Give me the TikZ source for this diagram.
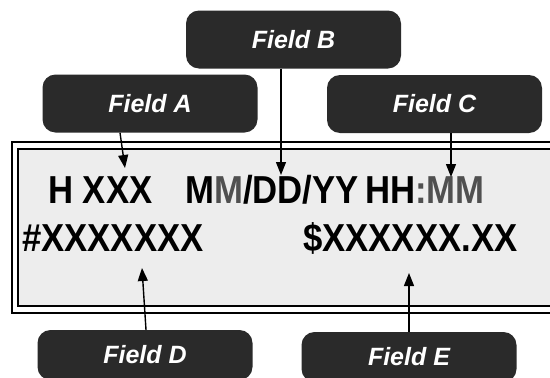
\documentclass[tikz,border=0pt]{standalone}
\usepackage{fontspec}
\usepackage{graphicx}
\setmainfont{Liberation Sans}
\usetikzlibrary{arrows.meta}
\definecolor{boxdark}{HTML}{2A2A2A}
\definecolor{panel}{HTML}{EDEDED}
\definecolor{dimtext}{HTML}{505050}
\newcommand{\dsp}[1]{\scalebox{0.89}[1]{#1}}
\tikzset{
  fieldbox/.style={fill=boxdark, rounded corners=13pt, text=white, inner sep=0pt,
    minimum width=215pt, minimum height=58pt,
    font=\fontsize{25}{30}\selectfont\bfseries\itshape},
  disp/.style={font=\fontsize{39}{44}\selectfont\bfseries, inner sep=0pt, anchor=base west},
  ptr/.style={line width=1.4pt, -{Triangle[width=10pt,length=13pt]}},
  outerline/.style={line width=2.8pt},
  innerline/.style={line width=1.8pt}
}
\begin{document}
\begin{tikzpicture}[x=1pt,y=-1pt]
\useasboundingbox (0,0) rectangle (550,378);
\clip (0,0) rectangle (550,378);
\fill[white] (0,0) rectangle (550,378);
% display frame
\fill[panel] (18,149) rectangle (570,306);
\draw[outerline] (12,142) rectangle (575,313);
\draw[innerline] (18,149) rectangle (570,306);
% display text
\node[disp] (t1) at (48,203) {\dsp{H XXX}};
\node[disp] (t2) at (185,203) {\dsp{M\textcolor{dimtext}{M}/DD/YY}};
\node[disp] (t3) at (365,203) {\dsp{HH\textcolor{dimtext}{:MM}}};
\node[disp] (t4) at (22,251) {\dsp{\#XXXXXXX}};
\node[disp] (t5) at (303,251) {\dsp{\$XXXXXX.XX}};
% field boxes
\node[fieldbox] (fb) at (293.5,39.5) {Field B};
\node[fieldbox] (fa) at (150,103.5) {Field A};
\node[fieldbox] (fc) at (434.5,104) {Field C};
\node[fieldbox, minimum height=50pt] (fd) at (145,355) {Field D};
\node[fieldbox, minimum height=50pt] (fe) at (409,357) {Field E};
% arrow tips
\coordinate (ta) at (125,168);
\coordinate (tb) at (281,175);
\coordinate (tc) at (451,177);
\coordinate (td) at (142,268);
\coordinate (te) at (409,273);
\draw[ptr] ([xshift=-30pt]fa.south) -- (ta);
\draw[ptr] ([xshift=-12.5pt]fb.south) -- (tb);
\draw[ptr] ([xshift=16.5pt]fc.south) -- (tc);
\draw[ptr] ([xshift=1pt]fd.north) -- (td);
\draw[ptr] (fe.north) -- (te);
\end{tikzpicture}
\end{document}
